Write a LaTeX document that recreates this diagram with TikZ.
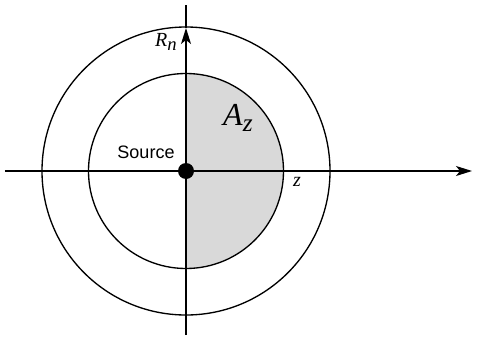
\documentclass[tikz,border=0pt]{standalone}
\usepackage{fontspec}
\setmainfont{Liberation Serif}
\setsansfont{Liberation Sans}
\usetikzlibrary{arrows.meta}
\tikzset{
  axis/.style={line width=1pt,-{Stealth[length=12pt,width=7.5pt,inset=3pt]}},
  ring/.style={line width=1pt},
}
\begin{document}
\begin{tikzpicture}[x=0.75pt,y=0.75pt]
\useasboundingbox (-186,-168) rectangle (291,171);
% shaded half disc
\fill[gray!30] (0,-97.5) arc (-90:90:97.5) -- cycle;
\draw[ring] (0,0) circle (97.5);
\draw[ring] (0,0) circle (144);
% axes
\coordinate (hleft) at (-181,0);
\coordinate (hright) at (286,0);
\coordinate (vbot) at (0,-164);
\coordinate (rtip) at (0,143);
\coordinate (vtop) at (0,166);
\draw[axis] (hleft) -- (hright);
\draw[axis] (vbot) -- (rtip);
\draw[ring] (rtip) -- (vtop);
\fill (0,0) circle (8);
\node[font=\sffamily\fontsize{13.5pt}{13.5pt}\selectfont] (source) at (-40,19) {Source};
\node[inner sep=0pt] (area) at (52,53) {{\fontsize{24pt}{24pt}\selectfont\textit{A}}\raisebox{-5pt}{\fontsize{19pt}{19pt}\selectfont\textit{z}}};
\node[inner sep=0pt] (radius) at (-20,129) {{\fontsize{15pt}{15pt}\selectfont\textit{R}}\raisebox{-3.5pt}{\fontsize{14pt}{14pt}\selectfont\textit{n}}};
\node[inner sep=0pt,font=\fontsize{15pt}{15pt}\selectfont\itshape] (zlabel) at (111,-11) {z};
\end{tikzpicture}
\end{document}
